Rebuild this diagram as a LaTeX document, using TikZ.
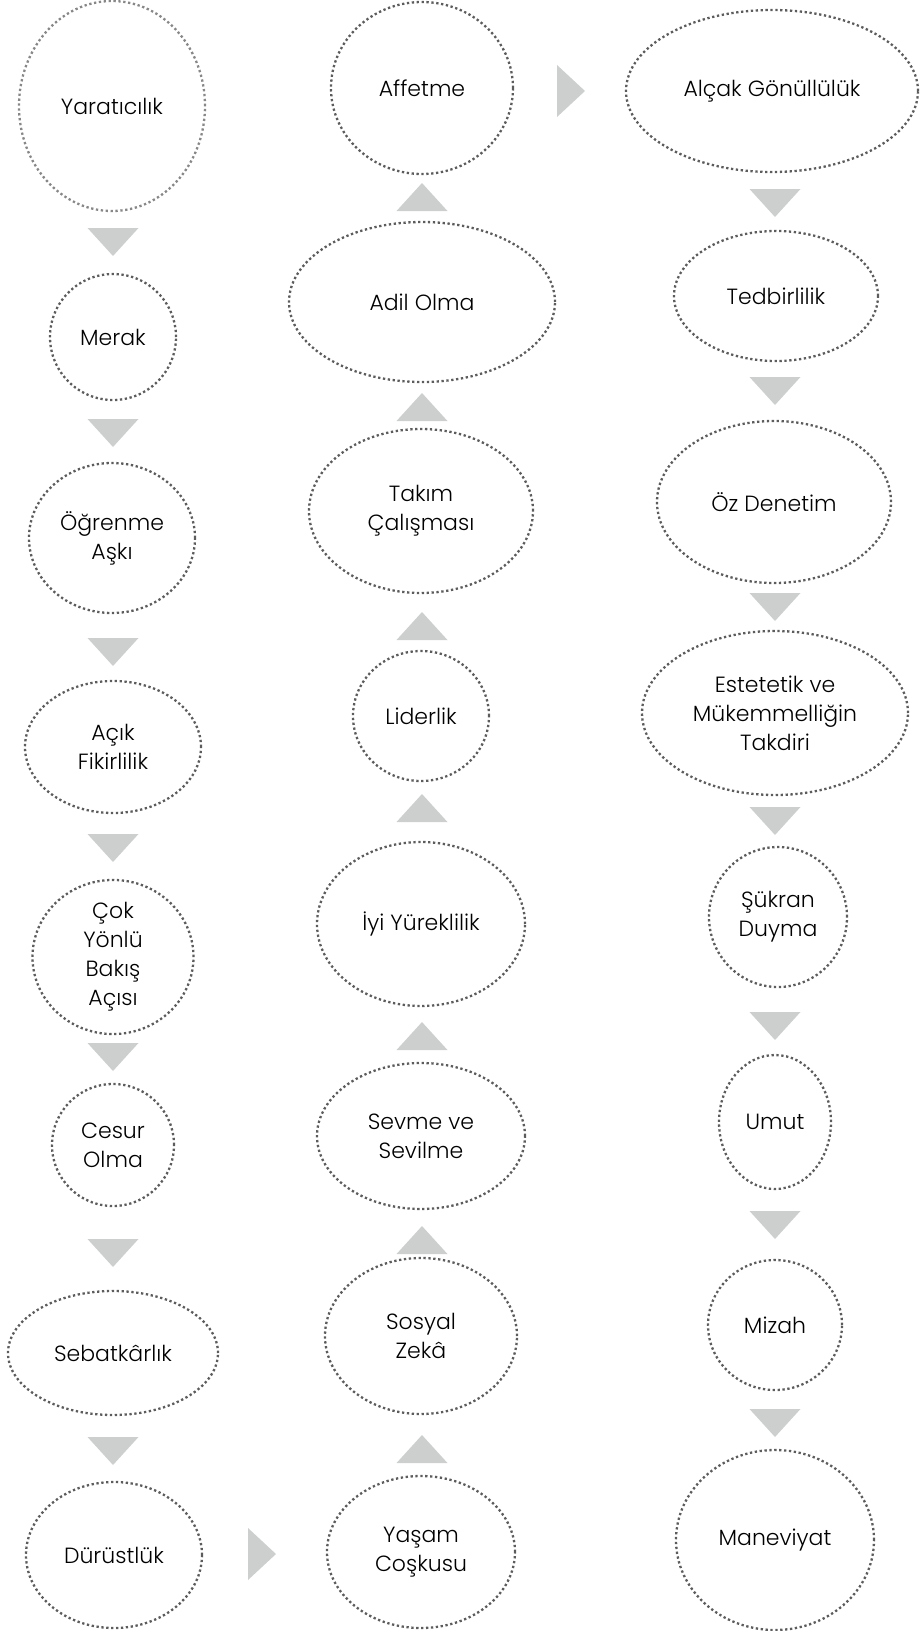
\documentclass[tikz,border=0pt]{standalone}
\usepackage{fontspec}
\setmainfont{Poppins Light}
\usetikzlibrary{shapes.geometric}
\definecolor{dotgray}{HTML}{5C5C5C}
\definecolor{dotlight}{HTML}{878787}
\definecolor{trigray}{HTML}{CDCFCE}

\begin{document}
\begin{tikzpicture}
[x=1pt,y=-1pt,
  nodeDecorate/.style={shape=ellipse,draw=dotgray,line width=2.3pt,
    dash pattern=on 2.3pt off 2.6pt,inner sep=0pt,align=center,
    font=\fontsize{22}{29}\selectfont},
  triDown/.pic={\fill[trigray] (-25.5,-14) -- (25.5,-14) -- (0,14) -- cycle;},
  triUp/.pic={\fill[trigray] (-25.5,14) -- (25.5,14) -- (0,-14) -- cycle;},
  triRight/.pic={\fill[trigray] (-14,-26) -- (-14,26) -- (14,0) -- cycle;}]
\useasboundingbox (0,0) rectangle (919,1631);
%% first node, lighter dots
\node (yar) at (112,106) [nodeDecorate,draw=dotlight,
  minimum width=186pt,minimum height=210pt] {Yaratıcılık};
%% other nodes
\foreach \nodename/\x/\y/\w/\h/\txt in {
  mer/113/337/126/126/Merak,
  ogr/112/538/166/150/{Öğrenme\\Aşkı},
  acik/113/747/176/132/{Açık\\Fikirlilik},
  cok/113/957/161/154/{Çok\\Yönlü\\Bakış\\Açısı},
  ces/113/1145/122/122/{Cesur\\Olma},
  seb/113/1353/210/124/Sebatkârlık,
  dur/114/1555/176/146/Dürüstlük,
  yas/421/1552/188/152/{Yaşam\\Coşkusu},
  sos/421/1336/192/156/{Sosyal\\Zekâ},
  sev/421/1136/208/146/{Sevme ve\\Sevilme},
  iyi/421/924/208/164/İyi Yüreklilik,
  lid/421/716/136/130/Liderlik,
  tak/421/511/224/164/{Takım\\Çalışması},
  adil/422/302/266/160/Adil Olma,
  aff/422/88/182/172/Affetme,
  alc/772/91/292/162/Alçak Gönüllülük,
  ted/776/296/204/130/Tedbirlilik,
  oz/774/502/234/162/Öz Denetim,
  est/775/713/266/164/{Estetetik ve\\Mükemmelliğin\\Takdiri},
  suk/778/917/138/140/{Şükran\\Duyma},
  umut/775/1122/112/134/Umut,
  miz/775/1325/134/130/Mizah,
  man/775/1540/198/180/Maneviyat}
{
  \node (\nodename) at (\x,\y) [nodeDecorate,
    minimum width=\w pt,minimum height=\h pt] {\txt};
}
%% arrow triangles
\foreach \y in {242,433,652,848,1057,1253,1451}
  \pic at (113,\y) {triDown};
\foreach \y in {197,407,626,808,1036,1240,1449}
  \pic at (422,\y) {triUp};
\foreach \y in {203,391,607,821,1026,1225,1423}
  \pic at (775,\y) {triDown};
\pic at (262,1554) {triRight};
\pic at (571,91) {triRight};
\end{tikzpicture}
\end{document}
